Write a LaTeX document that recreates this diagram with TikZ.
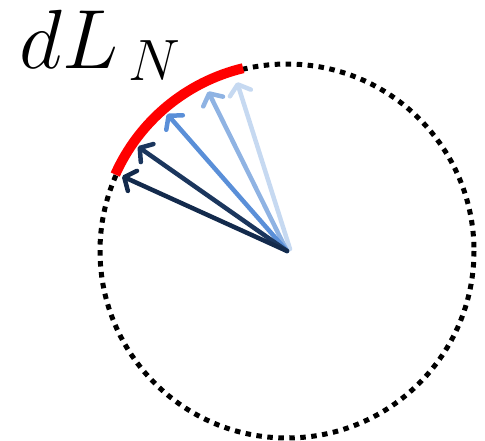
\documentclass[tikz,border=0pt]{standalone}
\usetikzlibrary{arrows.meta,calc}
\definecolor{arrA}{HTML}{132A4C}
\definecolor{arrB}{HTML}{1B365D}
\definecolor{arrC}{HTML}{5A8FD8}
\definecolor{arrD}{HTML}{8FB3E3}
\definecolor{arrE}{HTML}{C6D9F1}
\tikzset{
  vec/.style={line width=4.5pt, line cap=round,
    -{Straight Barb[length=9pt,width=22pt,line cap=round,line join=round]}},
  ring/.style={line width=5pt, dash pattern=on 5.5pt off 5.5pt},
  arcmark/.style={line width=10pt, red},
  lbl/.style={inner sep=0pt, scale=4.05, anchor=base west, font=\huge},
}
\begin{document}
\begin{tikzpicture}[x=1pt,y=-1pt]
\useasboundingbox (0,0) rectangle (485,440);
\coordinate (C) at (287,251);
\draw[ring] (C) circle[radius=187];
\draw[arcmark] (C) ++(-156:188) arc[start angle=-156, end angle=-103.5, radius=188];
\coordinate (t1) at ($(C)+(-155.6:181)$);
\coordinate (t2) at ($(C)+(-145:182)$);
\coordinate (t3) at ($(C)+(-131.2:182)$);
\coordinate (t4) at ($(C)+(-116.3:178)$);
\coordinate (t5) at ($(C)+(-106.5:176)$);
\coordinate (C5) at (290,249);
\draw[vec, arrE] (C5) -- (t5);
\draw[vec, arrD] (C) -- (t4);
\draw[vec, arrC] (C) -- (t3);
\draw[vec, arrB] (C) -- (t2);
\draw[vec, arrA] (C) -- (t1);
\node[lbl] (L) at (19,68) {$dL_{\,N}$};
\end{tikzpicture}
\end{document}
